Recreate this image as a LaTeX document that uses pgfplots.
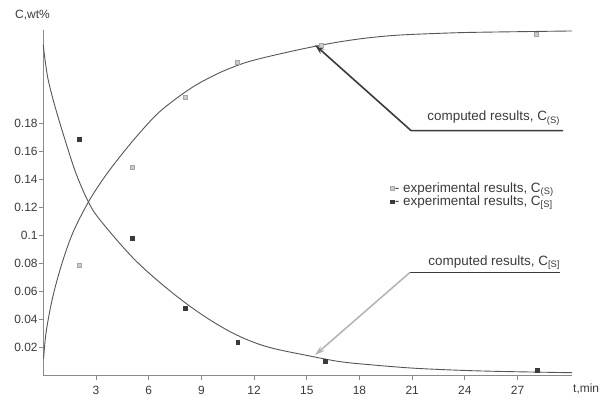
\documentclass[border=0pt]{standalone}
\usepackage{pgfplots}
\pgfplotsset{compat=1.18}
\usepackage{fontspec}
\setmainfont{Liberation Sans}
\usetikzlibrary{arrows.meta}
\definecolor{txt}{HTML}{3A3A3A}
\definecolor{crv}{HTML}{555555}
\definecolor{axc}{HTML}{8A8A8A}
\begin{document}
\begin{tikzpicture}
\useasboundingbox (0,0) rectangle (610bp,397bp);
\begin{axis}[
  at={(43.3bp,21.5bp)}, anchor=south west,
  scale only axis, width=528.7bp, height=345.5bp,
  xmin=0, xmax=30.1, ymin=0, ymax=0.2468,
  axis x line*=bottom, axis y line*=left,
  axis line style={draw=axc, line width=1.3bp},
  tick style={draw=axc, line width=0.8bp},
  tick align=outside, major tick length=4bp,
  xtick={3,6,9,12,15,18,21,24,27},
  ytick={0.02,0.04,0.06,0.08,0.1,0.12,0.14,0.16,0.18},
  yticklabels={0.02,0.04,0.06,0.08,0.1,0.12,0.14,0.16,0.18},
  scaled y ticks=false,
  /pgf/number format/assume math mode=true,
  ticklabel style={font=\fontsize{12}{14}\selectfont, text=txt},
  yticklabel style={inner sep=1.5bp},
  xticklabel style={inner sep=1.5bp, yshift=-5bp},
  clip=false,
  legend style={at={(axis cs:29.3,0.1289)}, anchor=east, draw=none, fill=none,
    font=\fontsize{13.5}{15}\selectfont, text=txt, nodes={inner sep=1bp}, row sep=0bp},
  legend cell align=left,
  legend image code/.code={\draw[#1] plot coordinates {(0.08cm,0cm)};},
]
% computed C(S)
\addplot[crv, line width=0.9bp, smooth, tension=0.55, forget plot] coordinates {
(0.02,0.0120) (0.15,0.0300) (0.5,0.0540) (1.0,0.0775) (1.65,0.1010)
(2.57,0.1240) (3.5,0.1420) (4.5,0.1585) (5.5,0.1735) (6.5,0.1870)
(7.5,0.1972) (8.5,0.2060) (9.5,0.2130) (10.5,0.2188) (11.77,0.2245)
(13.67,0.2303) (15.38,0.2349) (16.9,0.2384) (18.5,0.2412) (20.3,0.2432)
(22.97,0.2446) (24.87,0.2452) (30.09,0.2461)};
% computed C[S]
\addplot[crv, line width=0.9bp, smooth, tension=0.55, forget plot] coordinates {
(0,0.2361) (0.10,0.2254) (0.28,0.2111) (0.67,0.1920) (1.24,0.1682)
(1.86,0.1444) (2.57,0.1239) (3.23,0.1111) (5.13,0.0837) (7.03,0.0623)
(8.92,0.0444) (10.82,0.0301) (12.72,0.0206) (15.38,0.0134) (16.9,0.0099)
(18.42,0.0079) (21.26,0.0051) (25.04,0.0032) (30.09,0.0020)};
% experimental C(S)
\addplot[only marks, mark=square*, mark size=1.9bp, mark options={fill=gray!40, draw=gray!70}] coordinates {
(2.05,0.079) (5.07,0.149) (8.07,0.1986) (11.03,0.2236) (15.8,0.236) (28.06,0.244)};
\addlegendentry{- experimental results, C\textsubscript{(S)}}
% experimental C[S]
\addplot[only marks, mark=square*, mark size=1.9bp, mark options={fill=txt, draw=txt}] coordinates {
(2.05,0.1686) (5.07,0.0983) (8.07,0.0483) (11.07,0.024) (16.06,0.0105) (28.1,0.0038)};
\addlegendentry{- experimental results, C\textsubscript{[S]}}
% annotations
\draw[txt, line width=1.6bp, -{Stealth[length=10bp,width=6bp]}] (axis cs:29.6,0.1749) -- (axis cs:20.94,0.1749) -- (axis cs:15.47,0.2361);
\draw[txt, line width=1.4bp] (axis cs:29.43,0.0737) -- (axis cs:20.88,0.0737);
\draw[gray!60, line width=1.5bp, -{Stealth[length=10bp,width=6bp,fill=gray!60!black]}] (axis cs:20.88,0.0737) -- (axis cs:15.47,0.0146);
\node[anchor=base east, inner sep=0, text=txt, font=\fontsize{13.5}{15}\selectfont] at (axis cs:29.43,0.1818) {computed results, C\textsubscript{(S)}};
\node[anchor=base east, inner sep=0, text=txt, font=\fontsize{13.5}{15}\selectfont] at (axis cs:29.43,0.0789) {computed results, C\textsubscript{[S]}};
\node[anchor=center, inner sep=0, text=txt, font=\fontsize{12}{14}\selectfont] at (rel axis cs:0,1) [xshift=-10.8bp, yshift=15bp] {C,wt\%};
\node[anchor=west, inner sep=0, text=txt, font=\fontsize{12}{14}\selectfont] at (rel axis cs:1,0) [xshift=1bp, yshift=-13.5bp] {t,min};
\end{axis}
\end{tikzpicture}
\end{document}
